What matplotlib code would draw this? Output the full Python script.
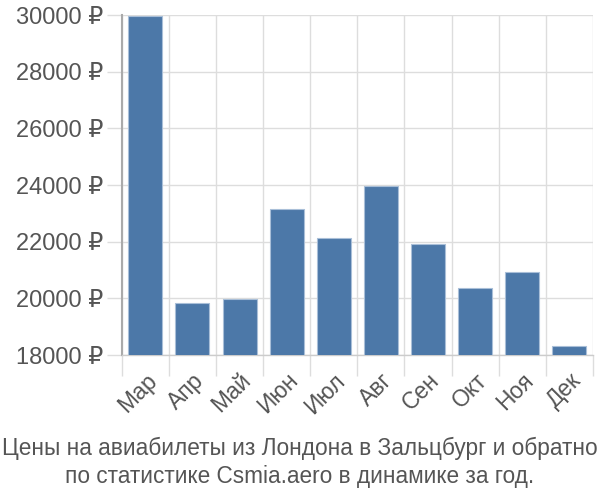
import matplotlib
matplotlib.use("Agg")
import matplotlib.pyplot as plt
import numpy as np

plt.rcParams['font.family'] = ['Liberation Sans', 'DejaVu Sans']

months = ["Мар", "Апр", "Май", "Июн", "Июл", "Авг", "Сен", "Окт", "Ноя", "Дек"]
prices = [29950, 19820, 19990, 23140, 22120, 23970, 21930, 20360, 20920, 18330]
yticks = [18000, 20000, 22000, 24000, 26000, 28000, 30000]
caption = "Цены на авиабилеты из Лондона в Зальцбург и обратно\nпо статистике Csmia.aero в динамике за год."

fig = plt.figure(figsize=(6, 5), dpi=100)
ax = fig.add_axes([0.203, 0.29, 0.785, 0.68])

x = np.arange(len(months))
ax.bar(x, prices, width=0.72, color="#4c78a8", edgecolor="#a9bfd8", linewidth=0.8, zorder=3)

ax.set_xlim(-0.5, len(months) - 0.5)
ax.set_ylim(18000, 30000)
ax.set_yticks(yticks)
ax.set_yticklabels([f"{v} ₽" for v in yticks], fontsize=17, color="#555555")

ax.set_xticks(x)
ax.set_xticklabels(months, rotation=45, ha="right", rotation_mode="anchor", fontsize=16.5, color="#555555")
ax.tick_params(axis="x", which="major", length=0, pad=10)
ax.set_xticks(np.arange(-0.5, len(months)), minor=True)
ax.tick_params(axis="x", which="minor", length=15, color="#dddddd", width=1)
ax.tick_params(axis="y", length=11, color="#dddddd", width=1, pad=2)

ax.grid(axis="y", which="major", color="#dddddd", linewidth=1, zorder=0)
ax.grid(axis="x", which="minor", color="#dddddd", linewidth=1, zorder=0)

for side in ["top", "right"]:
    ax.spines[side].set_visible(False)
ax.spines["left"].set_color("#aaaaaa")
ax.spines["left"].set_linewidth(1.5)
ax.spines["bottom"].set_color("#cccccc")
ax.spines["bottom"].set_linewidth(1)

fig.text(0.5, 0.024, caption, ha="center", va="bottom", fontsize=16.3, color="#555555", linespacing=1.3)

fig.savefig("out.png", dpi=100)
